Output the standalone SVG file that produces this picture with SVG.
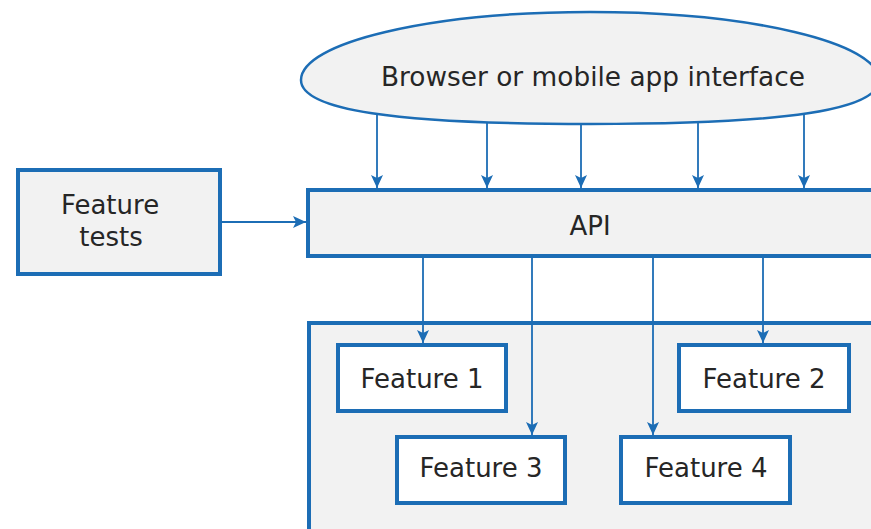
<svg xmlns="http://www.w3.org/2000/svg" width="871" height="529" viewBox="0 0 871 529">
<style>
.box{fill:#f2f2f2;stroke:#1c6db5;stroke-width:4}
.wbox{fill:#ffffff;stroke:#1c6db5;stroke-width:4}
.ell{fill:#f2f2f2;stroke:#1c6db5;stroke-width:2.5}
.lbl{font-family:"DejaVu Sans",Verdana,sans-serif;font-size:26px;fill:#262626;text-anchor:middle}
.con{stroke:#1c6db5;stroke-width:1.8;fill:none;marker-end:url(#ah)}
</style>
<defs>
<marker id="ah" markerUnits="userSpaceOnUse" markerWidth="13" markerHeight="13" viewBox="0 0 13 13" refX="13" refY="6.5" orient="auto">
<path d="M0,0.5 L13,6.5 L0,12.5 L3,6.5 Z" fill="#1c6db5"/>
</marker>
</defs>
<g id="container"><rect class="box" x="309" y="323" width="600" height="240"/></g>
<g id="browser">
<path class="ell" d="M301,80 C301,42.5 430,12 590,12 C750,12 879,42.5 879,80 C879,110 786,124 590,124 C394,124 301,110 301,80 Z"/>
<text class="lbl" x="593" y="86" textLength="424" lengthAdjust="spacingAndGlyphs">Browser or mobile app interface</text>
</g>
<g id="feature-tests">
<rect class="box" x="18" y="170" width="202" height="104"/>
<text class="lbl" x="110" y="214">Feature</text>
<text class="lbl" x="111" y="246">tests</text>
</g>
<g id="api">
<rect class="box" x="308" y="190" width="600" height="66"/>
<text class="lbl" x="590" y="235">API</text>
</g>
<g id="feature1">
<rect class="wbox" x="338" y="345" width="168" height="66"/>
<text class="lbl" x="422" y="388">Feature 1</text>
</g>
<g id="feature2">
<rect class="wbox" x="679" y="345" width="170" height="66"/>
<text class="lbl" x="764" y="388">Feature 2</text>
</g>
<g id="feature3">
<rect class="wbox" x="397" y="437" width="168" height="66"/>
<text class="lbl" x="481" y="477">Feature 3</text>
</g>
<g id="feature4">
<rect class="wbox" x="621" y="437" width="169" height="66"/>
<text class="lbl" x="706" y="477">Feature 4</text>
</g>
<g id="connectors">
<line class="con" x1="377" y1="114" x2="377" y2="188"/>
<line class="con" x1="487" y1="122.5" x2="487" y2="188"/>
<line class="con" x1="581" y1="124" x2="581" y2="188"/>
<line class="con" x1="698" y1="122.5" x2="698" y2="188"/>
<line class="con" x1="804" y1="114" x2="804" y2="188"/>
<line class="con" x1="220" y1="222" x2="306" y2="222"/>
<line class="con" x1="423" y1="258" x2="423" y2="343"/>
<line class="con" x1="763" y1="258" x2="763" y2="343"/>
<line class="con" x1="532" y1="258" x2="532" y2="435"/>
<line class="con" x1="653" y1="258" x2="653" y2="435"/>
</g>
</svg>
